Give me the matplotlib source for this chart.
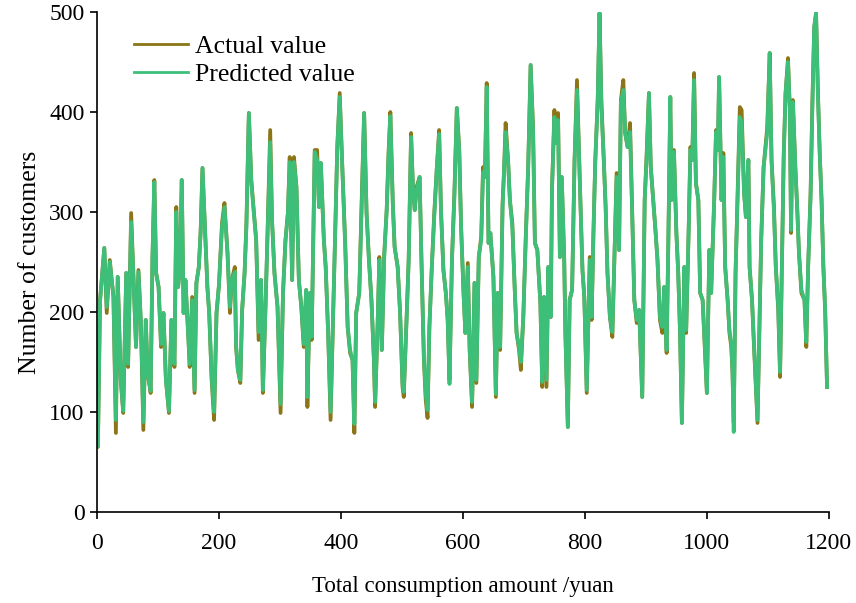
import matplotlib
matplotlib.use('Agg')
import matplotlib.pyplot as plt
import numpy as np

plt.rcParams['font.family'] = ['Liberation Serif', 'DejaVu Serif']
plt.rcParams['mathtext.fontset'] = 'stix'

# x positions of the traced turning points
x_vals = [
    # 0 - 200
    0, 1.5, 5, 12, 16, 21, 27, 31, 34, 39,
    43, 48, 51, 56, 60, 64, 68, 72, 76, 80,
    83, 88, 91, 94, 97, 101, 105, 109, 113, 118,
    122, 127, 130, 133, 136, 139, 142, 145, 150, 152,
    156, 160, 163, 167, 170, 173, 177, 181, 184, 188,
    192, 196, 200,
    # 200 - 400
    205, 209, 214, 218, 221, 226, 228, 231, 235, 238,
    242, 245, 249, 253, 257, 261, 265, 269, 272, 276,
    279, 284, 287, 291, 296, 301, 305, 309, 313, 316,
    320, 323, 327, 331, 335, 339, 343, 345, 349, 352,
    357, 361, 364, 367, 372, 375, 379, 383, 387, 390,
    394, 398, 402,
    # 400 - 600
    407, 411, 415, 419, 422, 425, 430, 434, 438, 442,
    446, 450, 454, 456, 460, 463, 467, 471, 475, 478,
    481, 485, 488, 493, 497, 501, 503, 508, 511, 515,
    518, 521, 524, 529, 532, 536, 539, 542, 545, 549,
    553, 557, 561, 564, 568, 572, 575, 578, 582, 586,
    590, 594, 597, 601,
    # 600 - 800
    604, 608, 611, 615, 619, 622, 626, 630, 633, 636,
    639, 642, 645, 650, 654, 657, 661, 665, 667, 670,
    674, 677, 681, 685, 688, 692, 695, 699, 703, 707,
    711, 715, 718, 722, 727, 730, 733, 737, 740, 744,
    746, 750, 752, 756, 759, 762, 766, 768, 772, 775,
    779, 783, 787, 790, 793, 796, 799, 803,
    # 800 - 1000
    808, 811, 814, 817, 821, 824, 827, 831, 834, 837,
    841, 845, 848, 852, 856, 859, 863, 866, 870, 874,
    877, 881, 885, 889, 894, 898, 901, 905, 908, 912,
    916, 919, 923, 927, 930, 934, 937, 940, 942, 946,
    950, 953, 956, 959, 963, 966, 970, 973, 976, 979,
    982, 986, 989, 993, 997, 1000, 1004, 1007,
    # 1000 - 1200
    1012, 1015, 1018, 1020, 1024, 1027, 1030, 1034, 1037, 1040,
    1042, 1044, 1047, 1051, 1054, 1057, 1061, 1064, 1068, 1070,
    1074, 1077, 1080, 1083, 1086, 1089, 1093, 1096, 1099, 1103,
    1106, 1110, 1113, 1117, 1120, 1123, 1126, 1129, 1133, 1136,
    1138, 1141, 1145, 1148, 1151, 1155, 1160, 1163, 1166, 1170,
    1173, 1176, 1179, 1182, 1185, 1188, 1191, 1194, 1197,
]

actual = [
    130, 65, 212, 264, 199, 252, 215, 79, 235, 132,
    99, 239, 145, 299, 232, 165, 242, 189, 82, 192,
    139, 119, 255, 332, 239, 225, 165, 199, 132, 99,
    192, 145, 305, 225, 245, 332, 199, 232, 172, 145,
    215, 119, 229, 245, 282, 344, 285, 225, 199, 132,
    92, 199, 227,
    289, 309, 259, 199, 232, 245, 165, 142, 129, 202,
    239, 289, 399, 332, 302, 272, 172, 232, 119, 199,
    265, 382, 292, 239, 205, 99, 219, 272, 299, 355,
    232, 355, 325, 232, 205, 165, 222, 105, 219, 172,
    362, 362, 305, 349, 272, 245, 179, 92, 192, 265,
    365, 419, 349,
    269, 185, 159, 152, 79, 199, 219, 312, 399, 299,
    252, 212, 152, 105, 185, 255, 162, 259, 302, 359,
    400, 309, 265, 245, 199, 125, 115, 199, 252, 379,
    325, 302, 325, 335, 252, 152, 112, 94, 185, 245,
    299, 342, 382, 302, 242, 219, 192, 132, 252, 319,
    404, 362, 285, 219,
    179, 249, 162, 105, 229, 129, 255, 275, 345, 335,
    429, 269, 279, 235, 115, 219, 162, 309, 335, 389,
    352, 312, 289, 222, 179, 162, 142, 195, 275, 345,
    447, 385, 269, 262, 209, 125, 215, 125, 245, 195,
    322, 402, 369, 399, 255, 335, 255, 179, 85, 212,
    222, 352, 432, 365, 302, 242, 215, 119,
    255, 192, 279, 352, 412, 499, 412, 352, 305, 239,
    195, 175, 245, 339, 262, 412, 432, 379, 365, 389,
    312, 212, 189, 202, 115, 312, 355, 419, 345, 312,
    279, 252, 192, 179, 225, 159, 279, 415, 312, 362,
    279, 239, 179, 89, 245, 179, 279, 365, 352, 439,
    329, 312, 219, 212, 159, 119, 262, 219,
    312, 382, 362, 435, 312, 359, 245, 212, 179, 165,
    139, 89, 239, 332, 405, 402, 319, 295, 352, 245,
    212, 169, 129, 89, 179, 272, 345, 365, 385, 459,
    352, 305, 245, 202, 135, 245, 359, 419, 454, 402,
    279, 412, 345, 305, 259, 219, 212, 165, 245, 319,
    412, 485, 499, 422, 359, 312, 245, 199, 125,
]

predicted = [
    128, 66, 210, 264, 205, 250, 215, 92, 235, 132,
    101, 239, 148, 290, 232, 165, 240, 189, 90, 192,
    139, 121, 255, 330, 239, 225, 168, 199, 132, 101,
    192, 148, 300, 225, 245, 332, 199, 232, 172, 148,
    212, 122, 229, 245, 280, 344, 285, 225, 199, 135,
    100, 199, 227,
    285, 305, 259, 205, 232, 240, 168, 142, 132, 202,
    239, 285, 399, 330, 300, 272, 180, 232, 122, 199,
    262, 370, 292, 239, 205, 108, 219, 270, 299, 350,
    232, 350, 325, 232, 205, 168, 222, 115, 219, 175,
    360, 352, 305, 349, 272, 245, 179, 100, 192, 265,
    365, 415, 349,
    265, 185, 162, 152, 88, 199, 219, 305, 399, 299,
    250, 212, 155, 110, 185, 252, 162, 255, 302, 355,
    396, 309, 265, 245, 199, 128, 120, 199, 250, 375,
    325, 302, 322, 335, 252, 155, 118, 102, 185, 245,
    295, 342, 378, 302, 242, 219, 192, 128, 252, 315,
    404, 360, 285, 219,
    179, 245, 165, 110, 229, 132, 255, 272, 340, 335,
    425, 269, 279, 235, 118, 219, 165, 305, 335, 380,
    352, 312, 285, 222, 179, 165, 150, 195, 272, 345,
    447, 380, 269, 262, 209, 130, 215, 132, 245, 195,
    322, 395, 369, 392, 255, 335, 255, 179, 85, 212,
    222, 350, 422, 365, 302, 242, 215, 122,
    252, 195, 279, 350, 412, 499, 405, 352, 305, 239,
    195, 180, 245, 335, 262, 410, 422, 379, 365, 380,
    312, 212, 192, 202, 115, 312, 350, 419, 345, 312,
    279, 252, 195, 185, 225, 162, 279, 415, 312, 360,
    279, 239, 179, 89, 245, 182, 279, 362, 352, 432,
    329, 312, 219, 212, 162, 119, 262, 219,
    312, 380, 362, 435, 312, 355, 245, 212, 182, 168,
    142, 80, 239, 330, 395, 390, 319, 295, 352, 245,
    212, 172, 132, 92, 179, 270, 345, 362, 380, 459,
    352, 300, 245, 205, 140, 245, 355, 419, 450, 402,
    282, 410, 345, 305, 259, 222, 212, 170, 245, 315,
    405, 485, 499, 418, 359, 312, 245, 202, 125,
]

x_ticks = [0, 200, 400, 600, 800, 1000, 1200]
y_ticks = [0, 100, 200, 300, 400, 500]

fig = plt.figure(figsize=(8.56, 6.03), dpi=100)
ax = fig.add_axes([0.1133, 0.151, 0.855, 0.829])

ax.plot(x_vals, actual, color='#8b7516', lw=2.7, label='Actual value')
ax.plot(x_vals, predicted, color='#3dbf7a', lw=2.7, label='Predicted value')

ax.set_xlim(0, 1200)
ax.set_ylim(0, 500)
ax.set_xticks(x_ticks)
ax.set_yticks(y_ticks)
ax.spines['top'].set_visible(False)
ax.spines['right'].set_visible(False)
for s in ['left', 'bottom']:
    ax.spines[s].set_linewidth(1.2)
ax.tick_params(direction='out', length=5, width=1.2, labelsize=17)
ax.tick_params(axis='x', pad=10)
ax.tick_params(axis='y', pad=4)

ax.set_xlabel('Total consumption amount /yuan', fontsize=16.5, labelpad=16)
ax.set_ylabel('Number of customers', fontsize=18.5, labelpad=6)

leg = ax.legend(loc='upper left', bbox_to_anchor=(0.03, 0.985), frameon=False,
                fontsize=18.5, handlelength=2.1, handletextpad=0.25,
                labelspacing=0.2, borderaxespad=0.2)
for h in leg.get_lines():
    h.set_linewidth(2)

fig.savefig('out.png', dpi=100)
